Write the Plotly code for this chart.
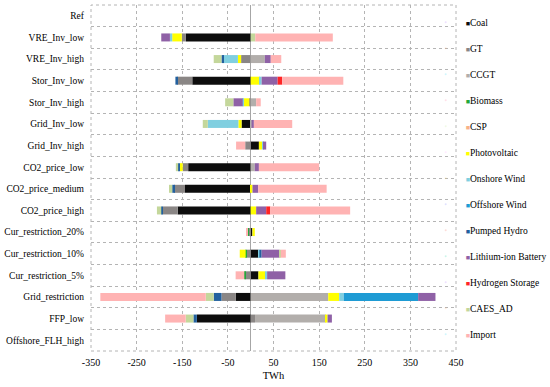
import plotly.graph_objects as go

categories = ["Ref", "VRE_Inv_low", "VRE_Inv_high", "Stor_Inv_low", "Stor_Inv_high",
              "Grid_Inv_low", "Grid_Inv_high", "CO2_price_low", "CO2_price_medium",
              "CO2_price_high", "Cur_restriction_20%", "Cur_restriction_10%",
              "Cur_restriction_5%", "Grid_restriction", "FFP_low", "Offshore_FLH_high"]

coal      = [0, -142, 0, -128, 0, -20, 18, -137, -144, -160, 3, 17, 17, -33, -118, 0]
gt        = [0, -9, -21, -33, -3, 0, -12, -12, -24, -33, -4, -9, -12, -31, 9.5, 0]
ccgt      = [0, 0, 31, 0, 12, 2, 0, 9, 0, 0, 1, 0, 0, 170, 155, 0]
biomass   = [0, 0, 0, 0, 0, 0, 0, 0, 0, 0, -2, -2, -2, 0, 0, 0]
csp       = [0, 0, 0, 0, 0, 0, 0, 0, 0, 0, 0, 0, 0, 0, 0, 0]
pv        = [0, -21, -7, 20, -13, -7, 7, -6, 4, 12, 5, -13, 15, 24, 4, 0]
onshore   = [0, -5, -32, 4, -1.5, -67, 2, 0, 0, 0, 0, 2, 4, 10, 0, 0]
offshore  = [0, 0, 0, 0, 0, 0, 0, 0, 0, 0, 0, 0, 0, 163, 0, 0]
pumped    = [0, 0, -4, -4, 0, 0, 0, -4, -4, -3, 0, 5, 0, -17, -7.5, 0]
liion     = [0, -19, 13, 35, -20.5, 5, 7, 9, 12.5, 22, 0, 39, 40, 38, 9.5, 0]
hydrogen  = [0, 0, 0, 10, 0, 0, 0, 0, 0, 9, 0, 0, 0, 0, 0, 0]
caes      = [0, 10, -17, 0, -18, -11, 0, -5, -7, -9.5, 0, 3, 0, -17.5, -17, 0]
imports   = [0, 170, 23, 134, 10, 84, -20, 132, 150, 175, -3, 11, -19, -231, -45, 0]

series_names = ["Coal", "GT", "CCGT", "Biomass", "CSP", "Photovoltaic", "Onshore Wind",
                "Offshore Wind", "Pumped Hydro", "Lithium-ion Battery", "Hydrogen Storage",
                "CAES_AD", "Import"]
series_values = [coal, gt, ccgt, biomass, csp, pv, onshore, offshore, pumped, liion,
                 hydrogen, caes, imports]
series_colors = ["#0d0d0d", "#8a8685", "#b2aeab", "#22a83a", "#f9b287", "#ffff00",
                 "#80cfe0", "#1e9bd4", "#22609e", "#8f61a6", "#ff2525", "#c4d79b",
                 "#ffb3b3"]

x_ticks = [-350, -250, -150, -50, 50, 150, 250, 350, 450]

FONT = "Liberation Serif"

fig = go.Figure()
for name, vals, col in zip(series_names, series_values, series_colors):
    fig.add_trace(go.Bar(
        y=categories, x=[v if v != 0 else None for v in vals], orientation="h",
        name=name, marker=dict(color=col, line=dict(width=0)), showlegend=False))

for name, col in zip(series_names, series_colors):
    fig.add_trace(go.Scatter(
        x=[None], y=[None], mode="markers", marker=dict(opacity=0, size=1),
        name=f"<span style='color:{col};font-size:7px'>■</span>{name}",
        legendgroup=name, showlegend=True))

fig.update_layout(
    width=550, height=387,
    barmode="relative", bargap=0.63,
    paper_bgcolor="white", plot_bgcolor="white",
    margin=dict(l=91, r=94, t=5, b=36, autoexpand=False),
    font=dict(family=FONT, size=10, color="#000000"),
    legend=dict(x=0.917, y=0.992, xanchor="left", yanchor="top",
                bgcolor="rgba(0,0,0,0)", font=dict(family=FONT, size=9.5),
                tracegroupgap=7, traceorder="grouped"),
    xaxis=dict(range=[-350, 450], tickvals=x_ticks, ticktext=[str(t) for t in x_ticks],
               showgrid=True, gridcolor="#b4b4b4", griddash="dot", gridwidth=1,
               zeroline=True, zerolinecolor="#a6a6a6", zerolinewidth=1,
               showline=False, ticks="", tickfont=dict(family=FONT, size=10),
               automargin=False, ticklabelstandoff=4,
               title=dict(text="TWh", font=dict(family=FONT, size=10.5), standoff=4)),
    yaxis=dict(categoryorder="array", categoryarray=categories, autorange="reversed",
               type="category", tickson="boundaries", showgrid=True,
               gridcolor="#b4b4b4", griddash="dot", gridwidth=1, ticks="",
               zeroline=False, showline=False, tickfont=dict(family=FONT, size=9.5),
               automargin=False, ticklabelstandoff=6),
)

fig.add_shape(type="rect", xref="x domain", yref="y domain", x0=0, x1=1, y0=0, y1=1,
              line=dict(color="#b4b4b4", width=1, dash="dot"), layer="below")

fig.write_html("out.html", config={"displayModeBar": False},
               post_script="document.body.style.margin='0px';")
